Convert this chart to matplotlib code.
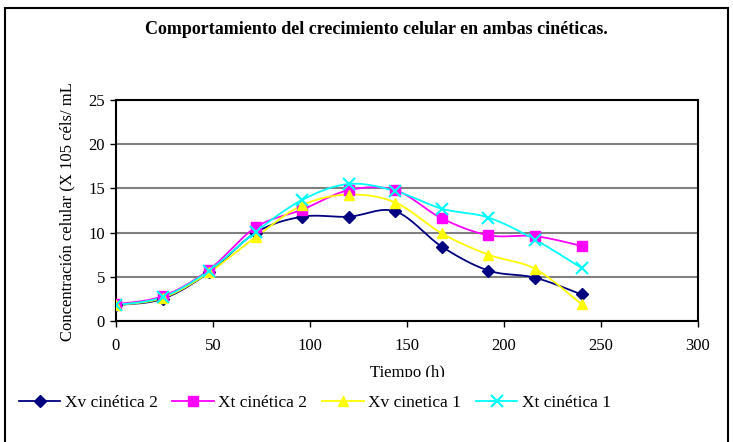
import numpy as np
import matplotlib
matplotlib.use("Agg")
import matplotlib.pyplot as plt
from matplotlib.patches import Rectangle
from matplotlib.transforms import Bbox

plt.rcParams['font.family'] = ['Liberation Serif', 'DejaVu Serif']

# horas de muestreo
tiempo = [0, 24, 48, 72, 96, 120, 144, 168, 192, 216, 240]

xv_cin2 = [1.8, 2.5, 5.5, 10.0, 11.8, 11.8, 12.4, 8.4, 5.7, 4.9, 3.0]
xt_cin2 = [1.9, 2.8, 5.8, 10.6, 12.6, 14.8, 14.8, 11.6, 9.7, 9.6, 8.5]
xv_cin1 = [1.8, 2.6, 5.5, 9.5, 13.1, 14.3, 13.4, 9.9, 7.5, 5.9, 1.9]
xt_cin1 = [1.8, 2.7, 5.7, 10.1, 13.7, 15.5, 14.7, 12.7, 11.7, 9.2, 6.0]

series = [
    ("Xv cinética 2", xv_cin2, "#000080", "D", 6),
    ("Xt cinética 2", xt_cin2, "#FF00FF", "s", 6.5),
    ("Xv cinetica 1", xv_cin1, "#FFFF00", "^", 7.5),
    ("Xt cinética 1", xt_cin1, "#00FFFF", "x", 8),
]


def suavizar(x, y, n=20):
    # curva tipo Excel (Catmull-Rom) entre los puntos medidos
    x = np.asarray(x, float)
    y = np.asarray(y, float)
    px = np.concatenate([[x[0]], x, [x[-1]]])
    py = np.concatenate([[y[0]], y, [y[-1]]])
    xs, ys = [], []
    t = np.linspace(0, 1, n)
    for i in range(1, len(px) - 2):
        for p, out in ((px, xs), (py, ys)):
            p0, p1, p2, p3 = p[i - 1], p[i], p[i + 1], p[i + 2]
            c1 = p1 + (p2 - p0) / 6
            c2 = p2 - (p3 - p1) / 6
            out.extend((1 - t) ** 3 * p1 + 3 * (1 - t) ** 2 * t * c1
                       + 3 * (1 - t) * t ** 2 * c2 + t ** 3 * p2)
    return xs, ys


fig = plt.figure(figsize=(7.33, 4.42), dpi=100)
W, H = 733, 442
ax = fig.add_axes([116 / W, 1 - 321 / H, (698 - 116) / W, (321 - 100) / H])

handles = []
for nombre, vals, color, mk, ms in series:
    sx, sy = suavizar(tiempo, vals)
    ax.plot(sx, sy, color=color, lw=1.3, zorder=3)
    ax.plot(tiempo, vals, linestyle="none", marker=mk, color=color, ms=ms,
            mew=1.5 if mk == "x" else 1, zorder=4)
    h, = ax.plot([], [], color=color, lw=1.3, marker=mk, ms=ms,
                 mew=1.5 if mk == "x" else 1, label=nombre)
    handles.append(h)

ax.set_xlim(0, 300)
ax.set_ylim(0, 25)
ax.set_xticks(range(0, 301, 50))
ax.set_yticks(range(0, 26, 5))
ax.grid(axis="y", color="#808080", lw=1.5)
ax.set_axisbelow(True)
for s in ax.spines.values():
    s.set_color("black")
    s.set_linewidth(1.5)
ax.tick_params(direction="out", length=4, width=1, labelsize=12, pad=4)
ax.tick_params(axis="x", pad=8)

fig.text(407 / W, 1 - 373 / H, "Tiempo (h)", ha="center", va="center",
         fontsize=12)
yl = fig.text(67 / W, 1 - 341 / H, "Concentración celular (X 105 céls/ mL)",
              rotation=90, ha="center", va="bottom", fontsize=12)
yl.set_clip_box(Bbox([[0, 0], [W, H - 83]]))
yl.set_clip_on(True)

fig.text(376 / W, 1 - 30 / H,
         "Comportamiento del crecimiento celular en ambas cinéticas.",
         ha="center", va="center", fontsize=13, fontweight="bold")

# fondo blanco de la leyenda tapa el pie del título del eje x
fig.patches.append(Rectangle((300, 0), 220, H - 377, transform=None,
                             facecolor="white", edgecolor="none", zorder=4))

leg = fig.legend(handles=handles, loc="center left", ncol=4,
                 bbox_to_anchor=(10 / W, 1 - 403 / H), frameon=False,
                 fontsize=12.5, handlelength=2.4, handletextpad=0.25,
                 columnspacing=0.85, borderpad=0)
leg.set_zorder(5)

# marco exterior del gráfico
fig.patches.append(Rectangle((5, -20), 723, H - 8 + 20, transform=None,
                             fill=False, edgecolor="black", lw=1.5))

fig.savefig("out.png", dpi=100)
